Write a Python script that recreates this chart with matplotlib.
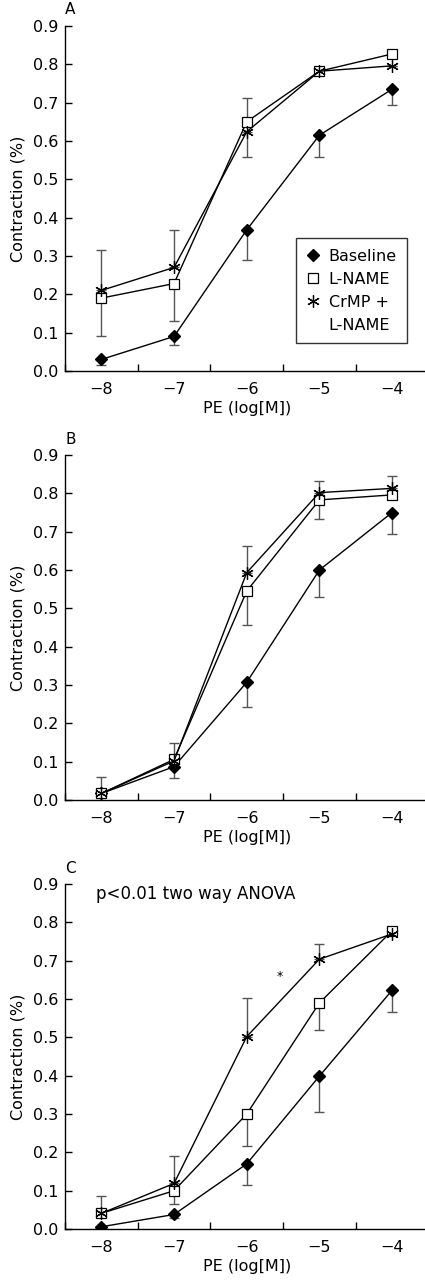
import matplotlib
matplotlib.use("Agg")
import matplotlib.pyplot as plt
from matplotlib.lines import Line2D

plt.rcParams['font.family'] = ['DejaVu Sans']

# PE concentration, log[M]
pe_log = [-8, -7, -6, -5, -4]

# Panel A
a_base = [0.03, 0.09, 0.368, 0.615, 0.735]
a_base_lo = [0.015, 0.023, 0.078, 0.058, 0.04]
a_lname = [0.19, 0.228, 0.65, 0.782, 0.827]
a_lname_lo = [0.10, 0.098, 0.0, 0.0, 0.0]
a_lname_hi = [0.0, 0.0, 0.062, 0.0, 0.0]
a_crmp = [0.21, 0.27, 0.624, 0.782, 0.796]
a_crmp_lo = [0.0, 0.0, 0.065, 0.0, 0.0]
a_crmp_hi = [0.106, 0.098, 0.0, 0.0, 0.0]

# Panel B
b_base = [0.017, 0.087, 0.307, 0.60, 0.75]
b_base_lo = [0.0, 0.03, 0.064, 0.071, 0.056]
b_lname = [0.017, 0.106, 0.545, 0.783, 0.796]
b_lname_lo = [0.0, 0.0, 0.088, 0.05, 0.0]
b_lname_hi = [0.0, 0.0, 0.0, 0.0, 0.0]
b_crmp = [0.017, 0.102, 0.593, 0.802, 0.813]
b_crmp_lo = [0.0, 0.0, 0.0, 0.0, 0.0]
b_crmp_hi = [0.042, 0.046, 0.07, 0.031, 0.033]

# Panel C
c_base = [0.006, 0.038, 0.17, 0.399, 0.623]
c_base_lo = [0.0, 0.01, 0.056, 0.093, 0.058]
c_lname = [0.041, 0.10, 0.30, 0.59, 0.778]
c_lname_lo = [0.0, 0.035, 0.083, 0.071, 0.0]
c_lname_hi = [0.0, 0.0, 0.0, 0.0, 0.0]
c_crmp = [0.041, 0.119, 0.502, 0.704, 0.77]
c_crmp_lo = [0.0, 0.0, 0.0, 0.0, 0.0]
c_crmp_hi = [0.045, 0.071, 0.102, 0.041, 0.0]

panel_letters = ['A', 'B', 'C']
y_ticks = [0.0, 0.1, 0.2, 0.3, 0.4, 0.5, 0.6, 0.7, 0.8, 0.9]
x_minor = [-8.5, -7.5, -6.5, -5.5, -4.5, -3.5]
# last legend label is split over two rows, second row has no marker
legend_rows = ['Baseline', 'L-NAME', 'CrMP +', 'L-NAME']

ERR_COL = '#555555'
CRMP_MARK = (6, 2, 0)
FS = 11.5


def draw_panel(ax, base, base_lo, lname, lname_lo, lname_hi, crmp, crmp_lo, crmp_hi):
    zeros = [0.0] * len(pe_log)
    for y, lo, hi in [(base, base_lo, zeros), (lname, lname_lo, lname_hi), (crmp, crmp_lo, crmp_hi)]:
        ax.errorbar(pe_log, y, yerr=[lo, hi], fmt='none', ecolor=ERR_COL,
                    elinewidth=1, capsize=3.6, capthick=1, zorder=1)
    ax.plot(pe_log, base, color='black', lw=1, marker='D', ms=6.5,
            mfc='black', mec='black', zorder=3)
    ax.plot(pe_log, lname, color='black', lw=1, marker='s', ms=7.5,
            mfc='white', mec='black', mew=0.9, zorder=4)
    ax.plot(pe_log, crmp, color='black', lw=1, marker=CRMP_MARK, ms=9,
            mec='black', mew=0.9, zorder=5)

    ax.set_xlim(-8.5, -3.5)
    ax.set_ylim(0, 0.9)
    ax.set_yticks(y_ticks)
    ax.set_yticklabels(['%.1f' % v for v in y_ticks])
    ax.set_xticks(pe_log)
    ax.set_xticklabels(['\u2212%d' % abs(v) for v in pe_log])
    ax.set_xticks(x_minor, minor=True)
    ax.tick_params(axis='x', which='major', length=0, pad=8, labelsize=FS)
    ax.tick_params(axis='x', which='minor', direction='in', length=5, width=1)
    ax.tick_params(axis='y', direction='in', length=5, width=1, pad=5, labelsize=FS)
    for s in ['top', 'right']:
        ax.spines[s].set_visible(False)
    for s in ['left', 'bottom']:
        ax.spines[s].set_linewidth(1)
    ax.set_xlabel('PE (log[M])', fontsize=FS, labelpad=3)
    ax.set_ylabel('Contraction (%)', fontsize=FS, labelpad=5)


fig = plt.figure(figsize=(4.25, 12.8), dpi=100)
bottoms = [0.7102, 0.375, 0.0398]
data = [
    (a_base, a_base_lo, a_lname, a_lname_lo, a_lname_hi, a_crmp, a_crmp_lo, a_crmp_hi),
    (b_base, b_base_lo, b_lname, b_lname_lo, b_lname_hi, b_crmp, b_crmp_lo, b_crmp_hi),
    (c_base, c_base_lo, c_lname, c_lname_lo, c_lname_hi, c_crmp, c_crmp_lo, c_crmp_hi),
]
axes = []
for i, b in enumerate(bottoms):
    ax = fig.add_axes([0.153, b, 0.855, 0.2695])
    ax.patch.set_alpha(0)
    draw_panel(ax, *data[i])
    ax.text(-8.5, 0.93, panel_letters[i], fontsize=11, ha='left', va='baseline')
    axes.append(ax)

# legend in panel A
handles = [
    Line2D([], [], ls='none', marker='D', ms=6.5, mfc='black', mec='black'),
    Line2D([], [], ls='none', marker='s', ms=7.5, mfc='white', mec='black', mew=0.9),
    Line2D([], [], ls='none', marker=CRMP_MARK, ms=9, mec='black', mew=0.9),
    Line2D([], [], ls='none', marker=None),
]
leg = axes[0].legend(handles, legend_rows, loc='lower left', bbox_to_anchor=(0.635, 0.081),
                     frameon=True, fancybox=False, edgecolor='black', fontsize=FS,
                     handlelength=0.8, handletextpad=0.6, borderpad=0.65, labelspacing=0.5,
                     borderaxespad=0)
leg.get_frame().set_linewidth(1)

# panel C annotations
axes[2].text(-8.07, 0.874, 'p<0.01 two way ANOVA', fontsize=12, ha='left', va='center')
axes[2].text(-5.55, 0.66, '*', fontsize=9, ha='center', va='center')

fig.savefig('out.png', dpi=100)
